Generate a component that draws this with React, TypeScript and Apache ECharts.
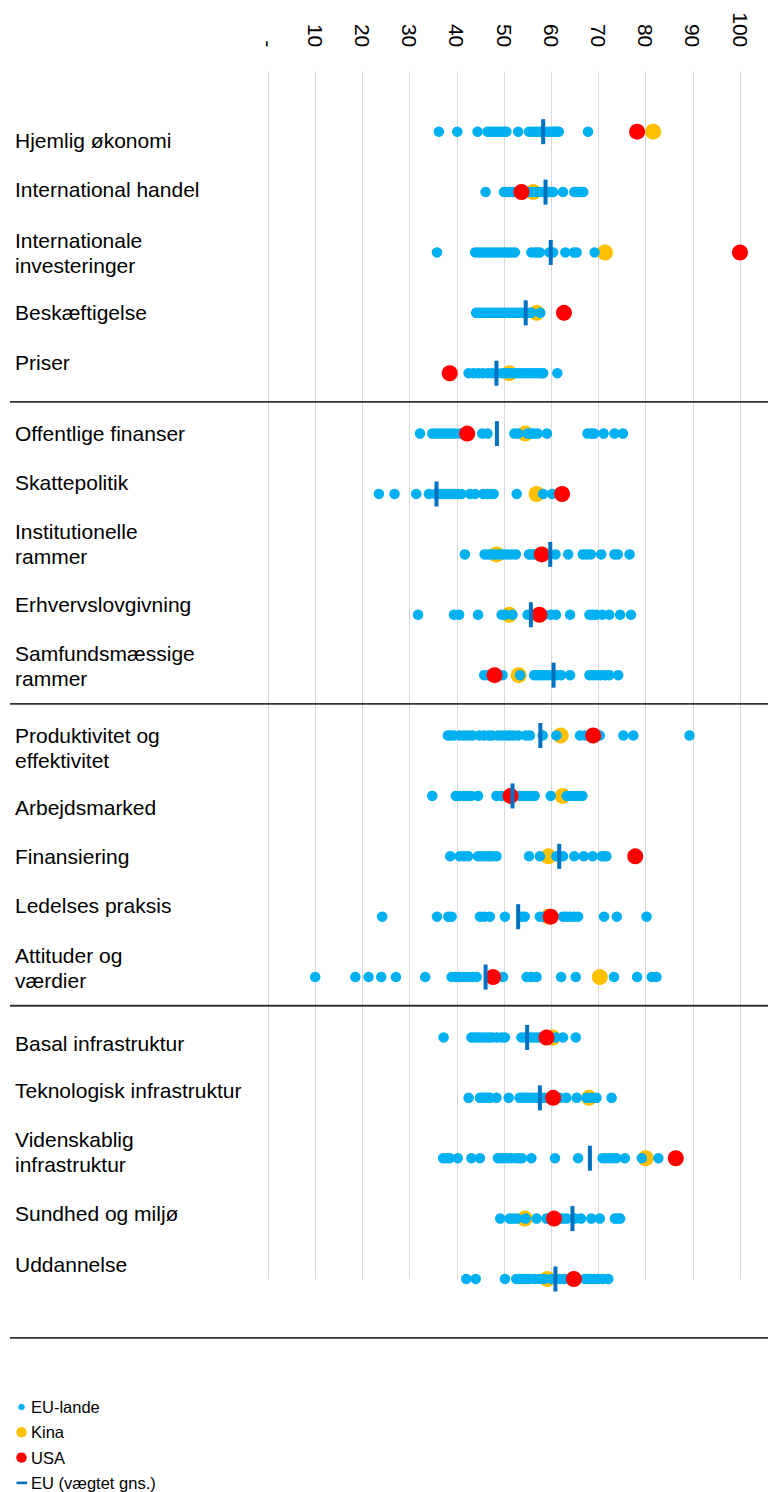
import React, { useEffect, useRef } from "react";
import * as echarts from "echarts";

const categories = [
  "Hjemlig økonomi",
  "International handel",
  "Internationale\ninvesteringer",
  "Beskæftigelse",
  "Priser",
  "Offentlige finanser",
  "Skattepolitik",
  "Institutionelle\nrammer",
  "Erhvervslovgivning",
  "Samfundsmæssige\nrammer",
  "Produktivitet og\neffektivitet",
  "Arbejdsmarked",
  "Finansiering",
  "Ledelses praksis",
  "Attituder og\nværdier",
  "Basal infrastruktur",
  "Teknologisk infrastruktur",
  "Videnskablig\ninfrastruktur",
  "Sundhed og miljø",
  "Uddannelse",
];

const xTicks = [0, 10, 20, 30, 40, 50, 60, 70, 80, 90, 100];

// EU member states, one list per category
const euLande: number[][] = [
  [36.2, 40.1, 44.4, 46.5, 47.0, 47.6, 48.1, 48.7, 49.3, 49.9, 50.5, 53.0, 55.3, 55.9, 56.6, 57.2, 57.8, 58.4, 59.0, 59.6, 60.2, 60.6, 61.0, 61.3, 61.6, 67.8],
  [46.1, 50.0, 50.6, 51.2, 51.8, 52.4, 53.0, 53.6, 54.2, 55.0, 55.8, 56.5, 57.2, 57.9, 58.5, 59.1, 59.7, 60.4, 62.5, 64.9, 65.6, 66.2, 66.8],
  [35.8, 43.9, 44.6, 45.3, 46.0, 46.7, 47.4, 48.1, 48.8, 49.5, 50.2, 50.9, 51.6, 52.3, 55.8, 56.5, 57.1, 57.6, 59.6, 60.4, 63.0, 64.8, 65.4, 69.2],
  [44.1, 44.7, 45.3, 45.9, 46.5, 47.1, 47.7, 48.3, 48.9, 49.5, 50.1, 50.7, 51.3, 51.9, 52.5, 53.1, 53.7, 54.3, 54.9, 55.4, 55.8, 57.7],
  [42.5, 43.5, 44.5, 45.5, 46.6, 47.5, 48.5, 49.6, 50.3, 51.0, 51.7, 52.4, 53.1, 53.8, 54.5, 55.2, 55.9, 56.6, 57.3, 58.0, 58.3, 61.3],
  [32.2, 34.8, 35.6, 36.4, 37.2, 38.0, 38.8, 39.6, 40.8, 41.6, 45.4, 46.5, 52.2, 53.0, 55.0, 55.6, 56.3, 57.1, 59.1, 67.7, 68.5, 69.1, 71.1, 73.4, 75.2],
  [23.5, 26.8, 31.4, 34.1, 35.5, 36.4, 37.0, 37.6, 38.2, 38.8, 39.5, 40.2, 41.0, 42.8, 43.9, 45.6, 46.5, 47.1, 47.8, 52.7, 58.3, 60.2],
  [41.7, 45.9, 46.7, 47.5, 48.3, 49.1, 49.9, 50.7, 51.6, 52.5, 55.3, 55.9, 56.5, 57.1, 58.0, 60.9, 63.6, 66.7, 67.5, 68.4, 70.6, 73.4, 74.1, 76.6],
  [31.8, 39.4, 40.5, 44.5, 49.5, 50.3, 51.8, 55.0, 55.7, 57.0, 58.5, 59.9, 61.0, 64.0, 68.1, 68.8, 69.5, 70.8, 72.3, 74.6, 76.9],
  [45.8, 46.6, 47.4, 48.2, 49.0, 49.7, 53.4, 56.4, 57.0, 57.6, 58.2, 58.8, 59.5, 60.3, 61.2, 62.1, 64.0, 68.1, 68.9, 69.7, 70.5, 71.4, 72.3, 74.2],
  [38.1, 38.7, 39.4, 40.6, 41.5, 42.4, 43.3, 44.8, 45.8, 46.8, 47.5, 48.8, 49.6, 50.5, 51.2, 52.0, 53.0, 54.6, 55.5, 58.2, 61.1, 66.1, 67.2, 69.8, 70.3, 75.3, 77.4, 89.3],
  [34.8, 39.8, 40.6, 41.5, 42.3, 43.0, 44.5, 48.4, 49.5, 50.8, 53.4, 54.2, 55.0, 55.7, 56.5, 59.9, 63.3, 64.1, 65.0, 65.8, 66.6],
  [38.6, 40.6, 41.5, 42.4, 44.5, 45.3, 46.0, 46.8, 47.5, 48.4, 55.3, 57.6, 61.1, 62.5, 64.9, 66.9, 68.8, 70.7, 71.2, 71.7],
  [24.2, 35.8, 38.2, 38.9, 44.9, 45.8, 47.0, 50.2, 53.8, 54.4, 57.6, 58.5, 60.5, 62.5, 63.2, 64.0, 64.9, 65.7, 71.2, 73.9, 80.2],
  [10.0, 18.5, 21.3, 24.0, 27.1, 33.3, 38.9, 39.8, 40.6, 41.5, 42.4, 43.3, 44.2, 47.0, 49.8, 54.8, 55.8, 56.9, 62.1, 65.2, 73.3, 78.2, 81.3, 82.3],
  [37.2, 43.1, 43.8, 44.5, 45.2, 46.0, 46.8, 47.5, 48.5, 49.5, 50.2, 53.7, 54.5, 55.5, 56.2, 56.9, 57.6, 58.3, 59.8, 61.0, 62.5, 65.2],
  [42.5, 44.9, 45.5, 46.0, 46.5, 47.0, 48.4, 51.0, 53.3, 53.9, 54.5, 55.0, 55.5, 56.2, 56.9, 58.5, 59.5, 61.8, 63.2, 65.4, 67.5, 68.5, 69.6, 72.8],
  [37.1, 37.8, 38.5, 40.2, 43.1, 44.9, 48.7, 49.4, 50.0, 50.8, 51.5, 52.5, 53.2, 53.8, 55.8, 60.8, 65.7, 70.9, 71.6, 72.3, 73.0, 73.8, 75.6, 79.2, 82.7],
  [49.2, 51.2, 51.9, 52.8, 54.6, 56.9, 59.0, 59.7, 61.0, 61.8, 62.5, 63.3, 65.0, 66.3, 68.5, 70.3, 73.5, 74.1, 74.6],
  [42.0, 44.0, 50.2, 52.6, 53.3, 54.0, 54.7, 55.5, 56.5, 57.6, 58.5, 60.0, 61.8, 62.8, 64.0, 67.1, 67.8, 68.5, 69.2, 70.0, 71.0, 72.1],
];

const kina = [81.6, 56.2, 71.4, 56.9, 51.1, 54.5, 56.9, 48.4, 51.1, 53.1, 62.0, 62.4, 59.4, 59.4, 70.3, 60.3, 68.0, 80.0, 54.4, 59.2];
const usa = [78.2, 53.7, 100, 62.7, 38.5, 42.2, 62.3, 58.0, 57.5, 48.0, 68.9, 51.4, 77.8, 59.9, 47.7, 59.0, 60.4, 86.4, 60.6, 64.8];
const euGns = [58.3, 58.8, 59.9, 54.6, 48.4, 48.5, 35.7, 59.8, 55.7, 60.5, 57.7, 51.8, 61.7, 53.0, 46.1, 54.9, 57.6, 68.2, 64.5, 60.9];

// group separators (in category units) below Priser, Samfundsmæssige rammer, Attituder og værdier, and at the end
const groupBreaks = [4.5, 9.5, 14.5, 20];

const legendNames = ["EU-lande", "Kina", "USA", "EU (vægtet gns.)"];

// layout: vertical nudge (px) of each row's label relative to its dots, as in the original layout
const labelNudge = [9, -3, 1, 0, -11, 0, -11, -10, -10, -9, 12, 12, 0, -11, -9, 6, -7, -6.5, -5, -15];

const COLORS = {
  eu: "#00B0F0",
  kina: "#FFC000",
  usa: "#FF0000",
  euGns: "#0070C0",
};

const FONT = "'Liberation Sans', Arial, Helvetica, sans-serif";

export default function App() {
  const ref = useRef<HTMLDivElement>(null);

  useEffect(() => {
    document.body.style.margin = "0";
    if (!ref.current) return;
    const chart = echarts.init(ref.current, null, { renderer: "svg" });

    const option: any = {
      animation: false,
      textStyle: { fontFamily: FONT },
      grid: { left: 268, right: 28, top: 71.3, bottom: 213, containLabel: false },
      xAxis: {
        type: "value",
        position: "top",
        min: xTicks[0],
        max: xTicks[xTicks.length - 1],
        interval: 10,
        axisLine: { show: false },
        axisTick: { show: false },
        splitLine: { show: true, lineStyle: { color: "#d9d9d9", width: 1 } },
        axisLabel: {
          rotate: -90,
          margin: 24,
          fontSize: 21,
          color: "#000",
          fontFamily: FONT,
          formatter: (v: number) => (v === 0 ? "-" : String(v)),
        },
      },
      yAxis: {
        type: "value",
        inverse: true,
        min: -1,
        max: 19,
        interval: 1,
        axisLine: { show: false },
        axisTick: { show: false },
        splitLine: { show: false },
        axisLabel: { show: false },
      },
      series: [
        {
          name: "Kina",
          type: "scatter",
          symbol: "circle",
          symbolSize: 16,
          itemStyle: { color: COLORS.kina, opacity: 1 },
          data: kina.map((v, i) => [v, i]),
          z: 2,
        },
        {
          name: "EU-lande",
          type: "scatter",
          symbol: "circle",
          symbolSize: 10.5,
          itemStyle: { color: COLORS.eu, opacity: 1 },
          data: euLande.flatMap((row, i) => row.map((v) => [v, i])),
          z: 3,
        },
        {
          name: "USA",
          type: "scatter",
          symbol: "circle",
          symbolSize: 16,
          itemStyle: { color: COLORS.usa, opacity: 1 },
          data: usa.map((v, i) => [v, i]),
          z: 4,
        },
        {
          name: "EU (vægtet gns.)",
          type: "scatter",
          symbol: "rect",
          symbolSize: [4, 25],
          itemStyle: { color: COLORS.euGns, opacity: 1 },
          data: euGns.map((v, i) => [v, i]),
          z: 5,
        },
      ],
    };

    chart.setOption(option);

    const graphics: any[] = [];

    // category labels, placed from the y scale
    categories.forEach((name, i) => {
      const y = (chart.convertToPixel({ yAxisIndex: 0 }, i) as number) + labelNudge[i];
      graphics.push({
        type: "text",
        x: 15,
        y,
        style: {
          text: name,
          fill: "#000",
          font: `21px ${FONT}`,
          lineHeight: 25,
          verticalAlign: "middle",
          align: "left",
        },
      });
    });

    groupBreaks.forEach((b) => {
      const y = chart.convertToPixel({ yAxisIndex: 0 }, b) as number;
      graphics.push({
        type: "line",
        shape: { x1: 10, y1: y - 1.5, x2: 768, y2: y - 1.5 },
        style: { stroke: "#333333", lineWidth: 1.8 },
        z: 10,
      });
    });

    const legendTop = 1407;
    const legendGap = 25.3;
    legendNames.forEach((name, i) => {
      const cy = legendTop + i * legendGap;
      if (i === 0) {
        graphics.push({ type: "circle", shape: { cx: 21.5, cy, r: 3.3 }, style: { fill: COLORS.eu } });
      } else if (i === 1) {
        graphics.push({ type: "circle", shape: { cx: 21.5, cy, r: 5.2 }, style: { fill: COLORS.kina } });
      } else if (i === 2) {
        graphics.push({ type: "circle", shape: { cx: 21.5, cy, r: 5.2 }, style: { fill: COLORS.usa } });
      } else {
        graphics.push({ type: "rect", shape: { x: 16.5, y: cy - 1.3, width: 10.5, height: 2.6 }, style: { fill: COLORS.euGns } });
      }
      graphics.push({
        type: "text",
        x: 31,
        y: cy,
        style: {
          text: name,
          fill: "#000",
          font: `16.5px ${FONT}`,
          verticalAlign: "middle",
          align: "left",
        },
      });
    });

    chart.setOption({ graphic: graphics });

    return () => {
      chart.dispose();
    };
  }, []);

  return <div ref={ref} style={{ width: 768, height: 1492 }} />;
}
